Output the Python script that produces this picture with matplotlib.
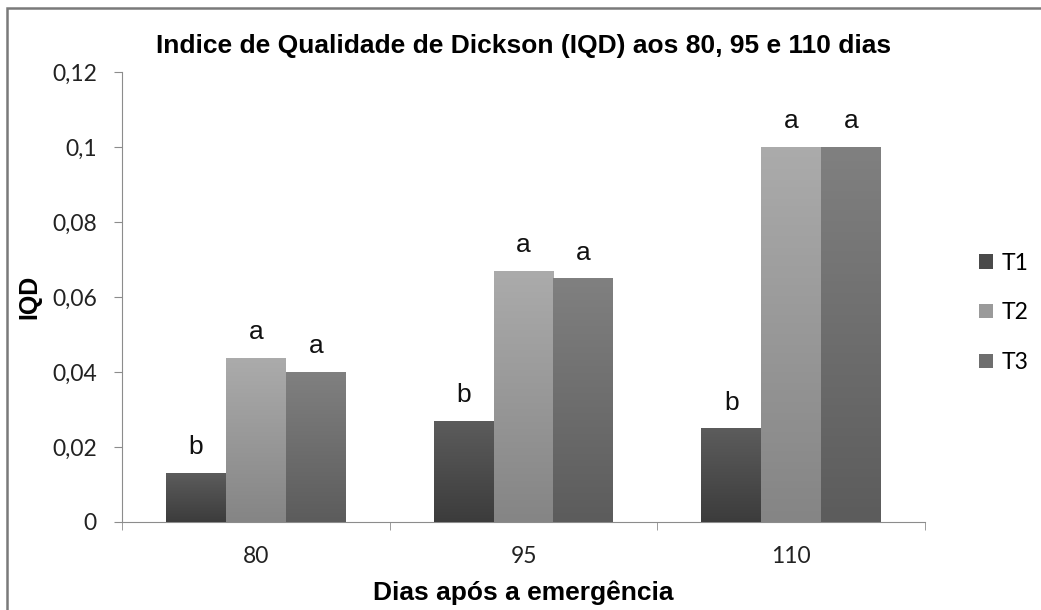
import matplotlib
matplotlib.use("Agg")
import matplotlib.pyplot as plt
import numpy as np
from matplotlib.colors import LinearSegmentedColormap
from matplotlib.patches import Rectangle

# Dados do grafico
dias = ["80", "95", "110"]
series = ["T1", "T2", "T3"]
t1 = [0.013, 0.027, 0.025]
t2 = [0.0437, 0.067, 0.100]
t3 = [0.040, 0.065, 0.100]
letras_t1 = ["b", "b", "b"]
letras_t2 = ["a", "a", "a"]
letras_t3 = ["a", "a", "a"]

valores = [t1, t2, t3]
letras = [letras_t1, letras_t2, letras_t3]
# cores (topo, base) do degrade
cores = [("#5c5c5c", "#3c3c3c"), ("#ababab", "#858585"), ("#808080", "#5c5c5c")]
cor_legenda = ["#4a4a4a", "#9a9a9a", "#6e6e6e"]

plt.rcParams["font.family"] = ["Liberation Sans", "DejaVu Sans"]
fonte_eixo = ["Lato", "DejaVu Sans"]

fig = plt.figure(figsize=(10.41, 6.10), dpi=100)
ax = fig.add_axes([122 / 1041, 1 - 522 / 610, (925 - 122) / 1041, (522 - 72) / 610])

# moldura do grafico
fig.patches.append(Rectangle((7 / 1041, -0.02), 1.05, 1 - 8 / 610 + 0.02,
                             transform=fig.transFigure, fill=False, edgecolor="#7a7a7a", linewidth=1.8))

x = np.arange(len(dias))
largura = 0.224
for i, nome in enumerate(series):
    pos = x + (i - 1) * largura
    barras = ax.bar(pos, valores[i], width=largura, color=cor_legenda[i], label=nome, zorder=2)
    cmap = LinearSegmentedColormap.from_list("g%d" % i, [cores[i][1], cores[i][0]])
    for b, letra in zip(barras, letras[i]):
        bx, by = b.get_x(), b.get_y()
        bw, bh = b.get_width(), b.get_height()
        grad = np.linspace(0, 1, 100).reshape(-1, 1)
        im = ax.imshow(grad, cmap=cmap, aspect="auto", origin="lower",
                       extent=[bx, bx + bw, by, by + bh], zorder=3)
        im.set_clip_path(b)
        ax.annotate(letra, (bx + bw / 2, by + bh), xytext=(0, 13.5), textcoords="offset points",
                    ha="center", va="baseline", fontsize=19, color="#111111")

ax.set_xlim(-0.5, 2.5)
ax.set_ylim(0, 0.12)
ax.set_yticks([0, 0.02, 0.04, 0.06, 0.08, 0.1, 0.12])
ax.set_yticklabels(["0", "0,02", "0,04", "0,06", "0,08", "0,1", "0,12"], fontsize=16.5,
                   family=fonte_eixo, color="#222222")
ax.set_xticks(x)
ax.set_xticklabels(dias, fontsize=16.5, family=fonte_eixo, color="#222222")
ax.set_xticks([-0.5, 0.5, 1.5, 2.5], minor=True)
ax.tick_params(axis="x", which="major", length=0, pad=17)
ax.tick_params(axis="x", which="minor", length=6, color="#8c8c8c")
ax.tick_params(axis="y", length=6, color="#8c8c8c", pad=12)

for lado in ["top", "right"]:
    ax.spines[lado].set_visible(False)
ax.spines["left"].set_color("#8c8c8c")
ax.spines["bottom"].set_color("#8c8c8c")

ax.set_title("Indice de Qualidade de Dickson (IQD) aos 80, 95 e 110 dias",
             fontsize=19, fontweight="bold", pad=14)
ax.set_xlabel("Dias após a emergência", fontsize=19, fontweight="bold", labelpad=10)
ax.set_ylabel("IQD", fontsize=18, fontweight="bold", labelpad=8)

ax.legend(loc="center left", bbox_to_anchor=(1.067, 0.465), frameon=False,
          borderpad=0, borderaxespad=0,
          prop={"family": fonte_eixo, "size": 16.5},
          handlelength=0.6, handleheight=0.6, handletextpad=0.4, labelspacing=1.25)

fig.savefig("out.png", dpi=100)
